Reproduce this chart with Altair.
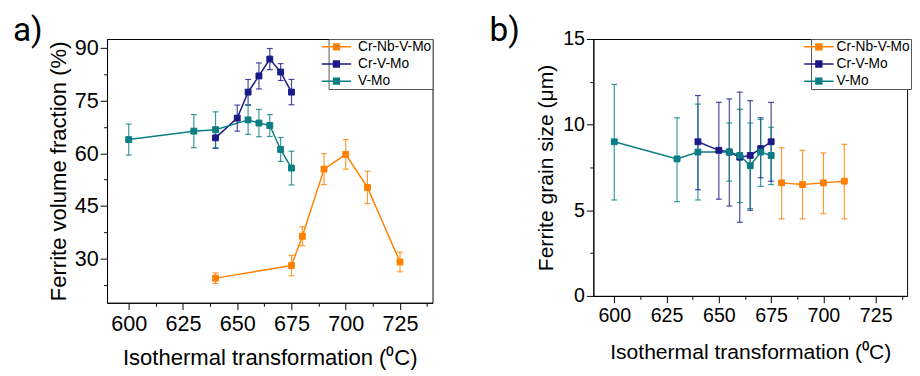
import altair as alt
import pandas as pd

SERIES = ["Cr-Nb-V-Mo", "Cr-V-Mo", "V-Mo"]
COLORS = ["#FF8000", "#1A1A88", "#0A7E84"]

# ---- panel a) ferrite volume fraction (%)
A_T_CRNB = [640, 675, 680, 690, 700, 710, 725]
A_F_CRNB = [24.5, 28.1, 36.4, 55.5, 59.7, 50.3, 29.1]
A_E_CRNB = [1.5, 2.9, 2.7, 4.4, 4.2, 4.6, 2.8]

A_T_CRV = [640, 650, 655, 660, 665, 670, 675]
A_F_CRV = [64.4, 70.0, 77.4, 82.0, 86.8, 83.1, 77.4]
A_E_CRV = [3.0, 3.7, 3.6, 3.7, 3.0, 2.4, 3.6]

A_T_VMO = [600, 630, 640, 655, 660, 665, 670, 675]
A_F_VMO = [63.9, 66.3, 66.7, 69.5, 68.6, 67.9, 61.1, 55.8]
A_E_VMO = [4.4, 4.7, 5.1, 4.1, 3.9, 3.1, 3.4, 4.8]

# ---- panel b) ferrite grain size (um)
B_T_CRNB = [680, 690, 700, 710]
B_G_CRNB = [6.6, 6.5, 6.6, 6.7]
B_LO_CRNB = [4.5, 4.5, 4.8, 4.5]
B_HI_CRNB = [8.65, 8.5, 8.35, 8.85]

B_T_CRV = [640, 650, 655, 660, 665, 670, 675]
B_G_CRV = [9.0, 8.5, 8.4, 8.1, 8.2, 8.6, 9.0]
B_LO_CRV = [6.2, 5.65, 5.25, 4.3, 5.0, 6.9, 6.7]
B_HI_CRV = [11.7, 11.3, 11.5, 11.9, 11.4, 10.4, 11.3]

B_T_VMO = [600, 630, 640, 655, 660, 665, 670, 675]
B_G_VMO = [9.0, 8.0, 8.4, 8.4, 8.2, 7.6, 8.4, 8.2]
B_LO_VMO = [5.6, 5.5, 5.6, 6.7, 5.45, 5.1, 6.4, 6.5]
B_HI_VMO = [12.35, 10.4, 11.2, 10.1, 10.9, 10.1, 10.3, 9.85]

X_MAJOR = [600, 625, 650, 675, 700, 725]
X_MINOR = [612.5, 637.5, 662.5, 687.5, 712.5, 737.5]
YA_MAJOR = [30, 45, 60, 75, 90]
YA_MINOR = [22.5, 37.5, 52.5, 67.5, 82.5]
YB_MAJOR = [0, 5, 10, 15]
YB_MINOR = [2.5, 7.5, 12.5]


def frame(rows):
    recs = []
    for name, ts, vs, los, his in rows:
        for t, v, lo, hi in zip(ts, vs, los, his):
            recs.append({"T": t, "v": v, "lo": round(lo, 3), "hi": round(hi, 3), "series": name})
    return pd.DataFrame(recs)


df_a = frame([
    ("Cr-Nb-V-Mo", A_T_CRNB, A_F_CRNB, [f - e for f, e in zip(A_F_CRNB, A_E_CRNB)], [f + e for f, e in zip(A_F_CRNB, A_E_CRNB)]),
    ("Cr-V-Mo", A_T_CRV, A_F_CRV, [f - e for f, e in zip(A_F_CRV, A_E_CRV)], [f + e for f, e in zip(A_F_CRV, A_E_CRV)]),
    ("V-Mo", A_T_VMO, A_F_VMO, [f - e for f, e in zip(A_F_VMO, A_E_VMO)], [f + e for f, e in zip(A_F_VMO, A_E_VMO)]),
])
df_b = frame([
    ("Cr-Nb-V-Mo", B_T_CRNB, B_G_CRNB, B_LO_CRNB, B_HI_CRNB),
    ("Cr-V-Mo", B_T_CRV, B_G_CRV, B_LO_CRV, B_HI_CRV),
    ("V-Mo", B_T_VMO, B_G_VMO, B_LO_VMO, B_HI_VMO),
])

# color channel (lines / error bars): explicit domain, no legend
cscale = alt.Scale(domain=SERIES, range=COLORS)
# fill / stroke channels (markers): data-driven domain, carry the legend
lscale = alt.Scale(range=COLORS)
LEG_PATH = "M-5,0L5,0M-1,-1L1,-1L1,1L-1,1Z"


def panel(df, ydom, ymaj, ymin, ytitle, lab, lab_x, w, h, lfs, tfs, xlp, xtp, ytp, legx, lego):
    xs = alt.Scale(domain=[590, 740], nice=False, zero=False)
    ys = alt.Scale(domain=ydom, nice=False, zero=False)
    x_major = alt.Axis(values=X_MAJOR, orient="bottom", title="Isothermal transformation (⁰C)",
                       tickSize=7, labelFontSize=lfs, titleFontSize=tfs, labelPadding=xlp,
                       titlePadding=xtp, labelFlush=False, labelOverlap=False, grid=False)
    y_major = alt.Axis(values=ymaj, orient="left", title=ytitle, format="d",
                       tickSize=7, labelFontSize=lfs, titleFontSize=tfs, labelPadding=2,
                       titlePadding=ytp, labelFlush=False, labelOverlap=False, grid=False)
    x_minor = alt.Axis(values=X_MINOR, orient="bottom", title=None, labels=False, domain=False,
                       tickSize=3.5, grid=False)
    y_minor = alt.Axis(values=ymin, orient="left", title=None, labels=False, domain=False,
                       tickSize=3.5, grid=False)
    col = alt.Color("series:N", scale=cscale, legend=None)
    xn = alt.X("T:Q", scale=xs, axis=None)
    base = alt.Chart(df)
    lines = base.mark_line(strokeWidth=1.5).encode(
        x=alt.X("T:Q", scale=xs, axis=x_major),
        y=alt.Y("v:Q", scale=ys, axis=y_major), color=col)
    minor = base.mark_line(opacity=0).encode(
        x=alt.X("T:Q", scale=xs, axis=x_minor),
        y=alt.Y("v:Q", scale=ys, axis=y_minor), detail="series:N")
    rules = base.mark_rule(strokeWidth=1.2, opacity=0.8).encode(
        x=xn, y=alt.Y("lo:Q", axis=None), y2="hi:Q", color=col)
    caps_lo = base.mark_point(shape="M-1,0L1,0", size=36, filled=False, strokeWidth=1.2, opacity=0.8).encode(
        x=xn, y=alt.Y("lo:Q", axis=None), color=col)
    caps_hi = base.mark_point(shape="M-1,0L1,0", size=36, filled=False, strokeWidth=1.2, opacity=0.8).encode(
        x=xn, y=alt.Y("hi:Q", axis=None), color=col)
    leg = alt.Legend(title=None, symbolType=LEG_PATH, orient="none", legendX=legx, legendY=0,
                     labelOffset=lego)
    pts = base.mark_point(shape="square", filled=True, size=36, opacity=1, strokeWidth=1).encode(
        x=xn, y=alt.Y("v:Q", axis=None),
        fill=alt.Fill("series:N", scale=lscale, legend=leg),
        stroke=alt.Stroke("series:N", scale=lscale, legend=leg))
    txt = alt.Chart(pd.DataFrame({"lbl": [lab]})).mark_text(
        align="left", baseline="alphabetic", fontSize=34, font="Roboto", color="black"
    ).encode(x=alt.value(lab_x), y=alt.value(2), text="lbl:N")
    return alt.layer(lines, minor, rules, caps_lo, caps_hi, pts, txt).resolve_axis(
        x="independent", y="independent").properties(width=w, height=h)


left = panel(df_a, [17.5, 92.5], YA_MAJOR, YA_MINOR, "Ferrite volume fraction (%)", "a)", -96,
             332, 269, 22, 22.5, 4, 13, 4, 226, 15)
right = panel(df_b, [0, 15], YB_MAJOR, YB_MINOR, "Ferrite grain size (μm)", "b)", -106,
              320, 262, 20, 21.5, 3, 17, 5, 222, 11)

chart = alt.hconcat(left, right, spacing=56).resolve_scale(
    fill="independent", stroke="independent", color="independent"
).resolve_legend(fill="independent", stroke="independent", color="independent").properties(
    padding={"left": 4, "top": 2, "right": 0, "bottom": 0}
).configure(font="Liberation Sans").configure_view(
    stroke="black", strokeWidth=1
).configure_axis(
    domainColor="black", tickColor="black", labelColor="black", titleColor="black",
    labelFont="Liberation Sans", titleFont="Liberation Sans", titleFontWeight="normal",
    domainWidth=1, tickWidth=1
).configure_legend(
    padding=1, strokeColor="#555", fillColor="white",
    labelFontSize=14, labelFont="Liberation Sans", labelColor="black",
    symbolSize=36, symbolStrokeWidth=1.5,
    rowPadding=3.5, cornerRadius=0
)

chart.save("out.html", embed_options={"renderer": "svg", "actions": False})
